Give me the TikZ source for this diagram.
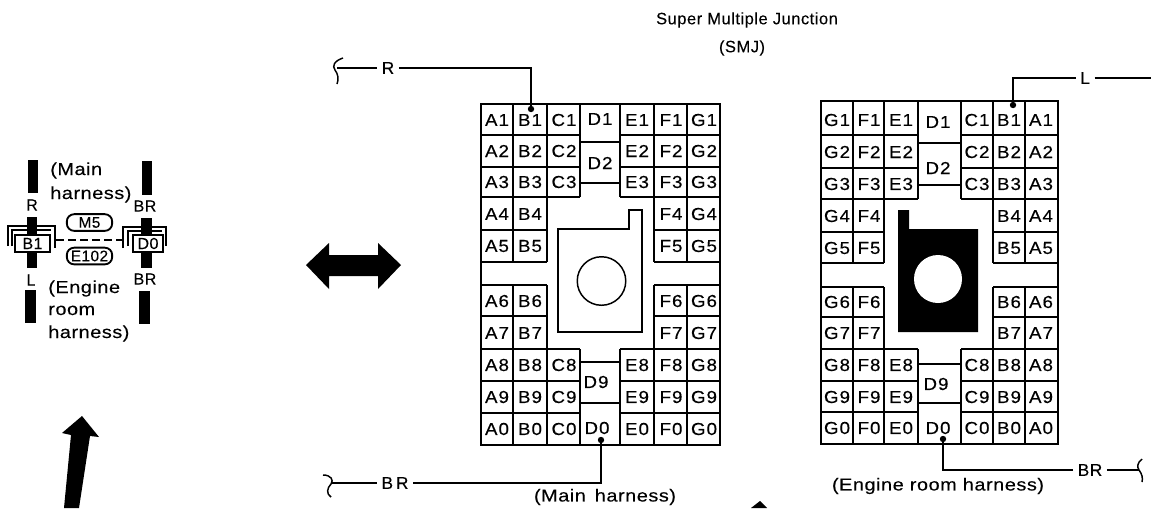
\documentclass[tikz,border=0pt]{standalone}
\usepackage{fontspec}
\setmainfont{Liberation Sans}
\newfontfamily\titlefont[LetterSpace=3,FakeBold=0.1]{Liberation Sans}
\newfontfamily\widefont[FakeStretch=1.15,LetterSpace=3,FakeBold=0.15]{Liberation Sans}
\newfontfamily\cellfont[FakeStretch=1.08,LetterSpace=6,FakeBold=0.3]{Liberation Sans}
\tikzset{
  ttl/.style={inner sep=0pt,font=\titlefont\fontsize{12.4}{14}\selectfont},
  lbl/.style={inner sep=0pt,font=\widefont\fontsize{13}{15}\selectfont},
  cellt/.style={inner sep=0pt,font=\cellfont\fontsize{13}{15}\selectfont},
  small/.style={inner sep=0pt,font=\titlefont\fontsize{12}{13}\selectfont},
  leadlbl/.style={inner sep=0pt,outer sep=3.5pt,font=\titlefont\fontsize{13}{15}\selectfont},
  grid/.style={line width=1.1pt,black},
  outer/.style={line width=1.9pt,black},
  leader/.style={line width=1.1pt,black},
  pin/.style={circle,fill=black,inner sep=0pt,minimum size=4.8pt},
  pill/.style={draw,line width=1.4pt,rounded corners=5.5pt,minimum width=34pt,minimum height=12.5pt,inner sep=0pt,font=\titlefont\fontsize{11.5}{12}\selectfont},
  pinbox/.style={draw,line width=1.7pt,fill=white,inner sep=0pt,font=\titlefont\fontsize{12}{13}\selectfont},
}
\begin{document}
\begin{tikzpicture}[x=0.75pt,y=-0.75pt]
\useasboundingbox (0,0) rectangle (1151,508);
\fill[white] (0,0) rectangle (1151,508);

% titles
\node[ttl] (title) at (747,20) {Super Multiple Junction};
\node[ttl] (smj) at (742,48) {(SMJ)};
\node[lbl] (mainh) at (605,497) {(Main\, harness)};
\node[lbl] (engh) at (938,486) {(Engine room harness)};

% ---------- left grid
\draw[outer] (481,104) rectangle (720,445);
\foreach \y in {135,167,197,349,381,413}
  \draw[grid] (481,\y) -- (580,\y) (620,\y) -- (720,\y);
\foreach \y in {230,262,285,316}
  \draw[grid] (481,\y) -- (547,\y) (654,\y) -- (720,\y);
\foreach \x in {513,547,654,687}
  \draw[grid] (\x,104) -- (\x,262) (\x,285) -- (\x,445);
\foreach \x in {580,620}
  \draw[grid] (\x,104) -- (\x,197) (\x,349) -- (\x,445);
\foreach \y in {142,183,362,403}
  \draw[grid] (580,\y) -- (620,\y);
\foreach \c/\x in {A/497,B/530,F/671,G/704}
  \foreach \r/\y in {1/120,2/151,3/182,4/214,5/246,6/301,7/333,8/365,9/397,0/429}
    \node[cellt] (L\c\r) at (\x,\y) {\c\r};
\foreach \c/\x in {C/564,E/637}
  \foreach \r/\y in {1/120,2/151,3/182,8/365,9/397,0/429}
    \node[cellt] (L\c\r) at (\x,\y) {\c\r};
\node[cellt] (LD1) at (600,119) {D1};
\node[cellt] (LD2) at (600,163) {D2};
\node[cellt] (LD9) at (596,382) {D9};
\node[cellt] (LD0) at (597,428) {D0};
% left key
\draw[line width=1.2pt,line join=miter] (558,229) -- (629,229) -- (629,210) -- (642,210) -- (642,332) -- (558,332) -- cycle;
\draw[line width=1.1pt] (601.5,281) circle [radius=18.2pt];

% ---------- right grid
\draw[outer] (821,101) rectangle (1058,444);
\foreach \y in {135,168,199,349,381,412}
  \draw[grid] (821,\y) -- (918,\y) (961,\y) -- (1058,\y);
\foreach \y in {232,263,287,317}
  \draw[grid] (821,\y) -- (884,\y) (993,\y) -- (1058,\y);
\foreach \x in {853,884,993,1025}
  \draw[grid] (\x,101) -- (\x,263) (\x,287) -- (\x,444);
\foreach \x in {918,961}
  \draw[grid] (\x,101) -- (\x,199) (\x,349) -- (\x,444);
\foreach \y in {143,185,364,403}
  \draw[grid] (918,\y) -- (961,\y);
\foreach \c/\x in {G/837,F/869,B/1009,A/1041}
  \foreach \r/\y in {1/120,2/152,3/184,4/216,5/248,6/302,7/333,8/365,9/397,0/428}
    \node[cellt] (R\c\r) at (\x,\y) {\c\r};
\foreach \c/\x in {E/901,C/977}
  \foreach \r/\y in {1/120,2/152,3/184,8/365,9/397,0/428}
    \node[cellt] (R\c\r) at (\x,\y) {\c\r};
\node[cellt] (RD1) at (938,122) {D1};
\node[cellt] (RD2) at (938,168) {D2};
\node[cellt] (RD9) at (936,384) {D9};
\node[cellt] (RD0) at (938,428) {D0};
% right key
\fill[black] (898,210) -- (909,210) -- (909,229) -- (978,229) -- (978,332) -- (898,332) -- cycle;
\fill[white] (938,279) circle [radius=18pt];

% ---------- leaders
\node[leadlbl] (rtop) at (388,68) {R};
\node[leadlbl] (brbot) at (395,483) {B\,R};
\node[leadlbl] (ltop) at (1085,78) {L};
\node[leadlbl] (brright) at (1090,470) {BR};
\node[pin] (pinA) at (531,109) {};
\node[pin] (pinB) at (601,440) {};
\node[pin] (pinC) at (1013,105) {};
\node[pin] (pinD) at (943,439) {};
\coordinate (sqA) at (337,68);
\coordinate (sqB) at (332,483);
\coordinate (endC) at (1151,78);
\coordinate (sqD) at (1139,470);
\draw[leader] (sqA) -- (rtop);
\draw[leader] (rtop) -| (pinA);
\draw[leader] (sqB) -- (brbot);
\draw[leader] (brbot) -| (pinB);
\draw[leader] (ltop) -| (pinC);
\draw[leader] (ltop) -- (endC);
\draw[leader] (brright) -| (pinD);
\draw[leader] (brright) -- (sqD);
\draw[line width=1.1pt] (343,58) .. controls (334,61) and (332,66) .. (335,70) .. controls (338,74) and (339,79) .. (337,84);
\draw[line width=1.1pt] (323,475) .. controls (331,475) and (334,480) .. (331,484) .. controls (327,488) and (326,494) .. (331,497);
\draw[line width=1.1pt] (1142,459) .. controls (1137,463) and (1137,467) .. (1139,470) .. controls (1142,474) and (1143,478) .. (1142,482);

% ---------- block arrows
\fill[black] (306,265) -- (329,243) -- (329,255) -- (378,255) -- (378,243) -- (401,265) -- (378,289) -- (378,276) -- (329,276) -- (329,289) -- cycle;
\fill[black] (82,416) -- (99,437) -- (90,436) -- (79,508) -- (64,508) -- (71,435) -- (62,433) -- cycle;
\fill[black] (751,508) -- (760,501) -- (767,508) -- cycle;

% ---------- left symbol
\fill[black] (28,160) rectangle (38,193);
\fill[black] (27,217) rectangle (37,268);
\fill[black] (25,290) rectangle (36,323);
\fill[black] (142,161) rectangle (152,195);
\fill[black] (141,218) rectangle (152,268);
\fill[black] (139,291) rectangle (150,324);
% brackets
\draw[line width=1.2pt] (8,246) -- (8,226) -- (55,226) -- (55,248);
\draw[line width=1.2pt] (12,246) -- (12,230) -- (51,230);
\draw[line width=1.2pt] (123,248) -- (123,227) -- (166,227) -- (166,246);
\draw[line width=1.2pt] (128,246) -- (128,231) -- (162,231);
\node[pinbox,minimum width=26pt,minimum height=13pt] (bone) at (32.5,243.5) {B1};
\node[pinbox,minimum width=22.5pt,minimum height=13pt] (dzero) at (148,243.5) {D0};
\draw[line width=1.5pt,dash pattern=on 6pt off 3pt] ([yshift=2.6pt,xshift=4pt]bone.east) -- ([yshift=2.6pt,xshift=-4pt]dzero.west);
\node[pill,fill=white] (mfive) at (89.5,222.5) {M5};
\node[pill,fill=white] (eoneotwo) at (89.5,256) {E102};
\node[small] (lR) at (32,205) {R};
\node[small] (lL) at (31,280) {L};
\node[small] (lBRa) at (145,206) {BR};
\node[small] (lBRb) at (145,279) {BR};
\node[lbl,anchor=base west] (m1) at (50,175) {(Main};
\node[lbl,anchor=base west] (m2) at (50,199) {harness)};
\node[lbl,anchor=base west] (e1) at (48,293) {(Engine};
\node[lbl,anchor=base west] (e2) at (48,315) {room};
\node[lbl,anchor=base west] (e3) at (48,338) {harness)};
\end{tikzpicture}
\end{document}
